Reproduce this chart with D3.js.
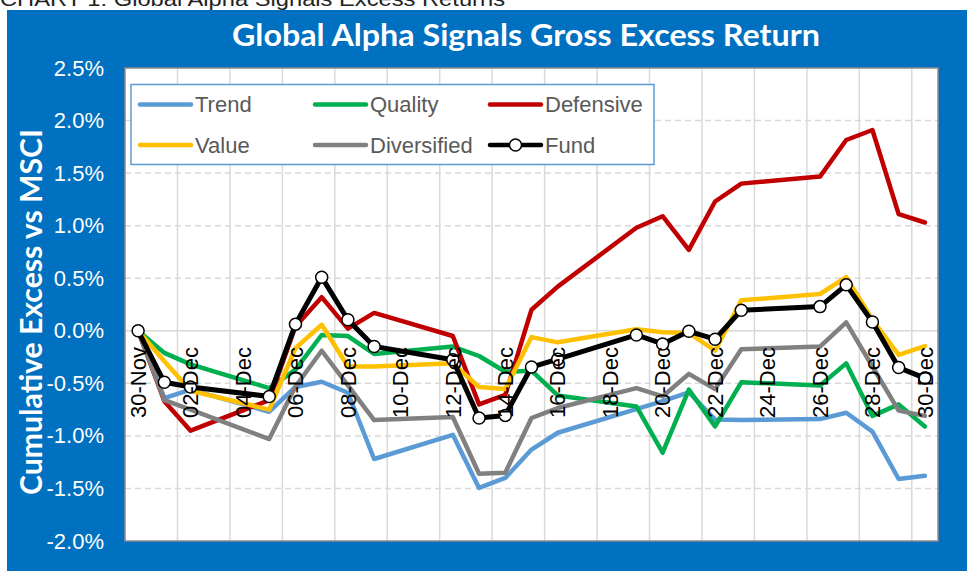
<!DOCTYPE html>
<html>
<head>
<meta charset="utf-8">
<script src="https://cdn.jsdelivr.net/npm/d3@7"></script>
<style>
  body { margin: 0; background: #fff; }
  svg { display: block; }
</style>
</head>
<body>
<svg id="chart" width="967" height="571"></svg>
<script>
// trading days shown on the chart (2016)
var dates = ["30-Nov", "01-Dec", "02-Dec", "05-Dec", "06-Dec", "07-Dec", "08-Dec", "09-Dec",
  "12-Dec", "13-Dec", "14-Dec", "15-Dec", "16-Dec", "19-Dec", "20-Dec", "21-Dec", "22-Dec",
  "23-Dec", "26-Dec", "27-Dec", "28-Dec", "29-Dec", "30-Dec"];

// cumulative excess vs MSCI, in percent
var trend = [0, -0.64, -0.56, -0.77, -0.535, -0.485, -0.59, -1.22, -0.99, -1.495, -1.40, -1.13,
  -0.97, -0.745, -0.67, -0.585, -0.845, -0.85, -0.84, -0.78, -0.96, -1.41, -1.38];
var quality = [0, -0.21, -0.32, -0.545, -0.37, -0.04, -0.05, -0.22, -0.15, -0.24, -0.39, -0.38,
  -0.615, -0.72, -1.16, -0.56, -0.91, -0.49, -0.52, -0.31, -0.81, -0.70, -0.91];
var defensive = [0, -0.67, -0.95, -0.66, 0.04, 0.32, 0.02, 0.17, -0.05, -0.70, -0.61, 0.20,
  0.42, 0.98, 1.09, 0.77, 1.23, 1.40, 1.467, 1.815, 1.91, 1.11, 1.03];
var value = [0, -0.29, -0.57, -0.75, -0.165, 0.057, -0.34, -0.34, -0.31, -0.535, -0.555, -0.06,
  -0.11, 0.015, -0.015, -0.02, -0.19, 0.29, 0.35, 0.51, 0.105, -0.23, -0.145];
var diversified = [0, -0.66, -0.75, -1.03, -0.53, -0.19, -0.52, -0.85, -0.82, -1.36, -1.35, -0.83,
  -0.735, -0.545, -0.625, -0.41, -0.555, -0.175, -0.15, 0.08, -0.34, -0.76, -0.81];
var fund = [0, -0.49, -0.535, -0.625, 0.063, 0.51, 0.105, -0.15, -0.275, -0.83, -0.805, -0.345,
  -0.27, -0.04, -0.125, -0.005, -0.08, 0.195, 0.23, 0.437, 0.083, -0.35, -0.45];

var yTicks = [-2.0, -1.5, -1.0, -0.5, 0, 0.5, 1.0, 1.5, 2.0, 2.5];

var seriesNames = ["Trend", "Quality", "Defensive", "Value", "Diversified", "Fund"];
var seriesValues = [trend, quality, defensive, value, diversified, fund];
var seriesColors = ["#5B9BD5", "#00B050", "#C00000", "#FFC000", "#808080", "#000000"];

chart();

function chart() {
  var svg = d3.select("#chart");
  var plot = {left: 125, right: 938, top: 68, bottom: 541};

  var parse = d3.utcParse("%d-%b-%Y");
  var fmt = d3.utcFormat("%d-%b");
  var days = dates.map(function(s) { return parse(s + "-2016"); });
  var halfDay = 12 * 3600 * 1000;

  // date axis, one band per calendar day
  var start = days[0];
  var end = d3.utcDay.offset(days[days.length - 1], 1);
  var x = d3.scaleUtc().domain([start, end]).range([plot.left, plot.right]);
  var xMid = function(d) { return x(new Date(+d + halfDay)); };

  var y = d3.scaleLinear().domain([-2.0, 2.5]).range([plot.bottom, plot.top]);

  // major unit = 2 days, counted from the first date
  var labelDays = d3.utcDay.range(start, end).filter((d, i) => i % 2 === 0);
  var gridDays = labelDays.slice(1);

  // outer chart area
  svg.append("rect").attr("x", 7).attr("y", 10).attr("width", 960).attr("height", 561)
    .attr("fill", "#0070C0");

  // caption above the chart (cut off at the top in the original)
  svg.append("text").attr("x", 0).attr("y", 6)
    .attr("font-family", "Liberation Sans, Arial, sans-serif").attr("font-size", 20)
    .attr("fill", "#222").attr("textLength", 505).attr("lengthAdjust", "spacingAndGlyphs")
    .text("CHART 1: Global Alpha Signals Excess Returns");

  svg.append("text").attr("x", 526).attr("y", 46).attr("text-anchor", "middle")
    .attr("font-family", "Lato, 'Open Sans', sans-serif").attr("font-weight", "bold")
    .attr("font-size", 30).attr("fill", "#fff")
    .attr("textLength", 588).attr("lengthAdjust", "spacingAndGlyphs")
    .text("Global Alpha Signals Gross Excess Return");

  // plot area
  svg.append("rect").attr("x", plot.left).attr("y", plot.top)
    .attr("width", plot.right - plot.left).attr("height", plot.bottom - plot.top)
    .attr("fill", "#fff");

  // vertical gridlines every 2 days
  svg.append("g").selectAll("line").data(gridDays).join("line")
    .attr("x1", d => x(d)).attr("x2", d => x(d))
    .attr("y1", plot.top).attr("y2", plot.bottom)
    .attr("stroke", "#D9D9D9").attr("stroke-width", 1.5);

  // horizontal dashed gridlines
  svg.append("g").selectAll("line").data(yTicks.filter(t => t !== 0 && t !== -2.0 && t !== 2.5)).join("line")
    .attr("x1", plot.left).attr("x2", plot.right)
    .attr("y1", d => y(d)).attr("y2", d => y(d))
    .attr("stroke", "#D9D9D9").attr("stroke-width", 1.5).attr("stroke-dasharray", "6,4");

  // horizontal axis crosses at zero
  svg.append("line").attr("x1", plot.left).attr("x2", plot.right)
    .attr("y1", y(0)).attr("y2", y(0))
    .attr("stroke", "#D9D9D9").attr("stroke-width", 1.5);

  svg.append("rect").attr("x", plot.left).attr("y", plot.top)
    .attr("width", plot.right - plot.left).attr("height", plot.bottom - plot.top)
    .attr("fill", "none").attr("stroke", "#8C8C8C").attr("stroke-width", 1.5);

  // y axis
  var yAxis = svg.append("g").attr("transform", `translate(${plot.left},0)`)
    .call(d3.axisLeft(y).tickValues(yTicks)
      .tickFormat(d => d.toFixed(1).replace("\u2212", "-") + "%")
      .tickSize(0).tickPadding(21));
  yAxis.select(".domain").remove();
  yAxis.selectAll("text").attr("fill", "#fff").attr("font-size", 22)
    .attr("font-family", "Liberation Sans, Arial, sans-serif");

  svg.append("text")
    .attr("transform", "translate(42,312) rotate(-90)").attr("text-anchor", "middle")
    .attr("font-family", "Lato, 'Open Sans', sans-serif").attr("font-weight", "bold")
    .attr("font-size", 30).attr("fill", "#fff")
    .attr("textLength", 366).attr("lengthAdjust", "spacingAndGlyphs")
    .text("Cumulative Excess vs MSCI");

  // series lines
  var line = d3.line().x(d => xMid(d.date)).y(d => y(d.v));
  var series = seriesNames.map(function(name, i) {
    return {name: name, color: seriesColors[i],
      points: seriesValues[i].map((v, j) => ({date: days[j], v: v}))};
  });

  svg.append("g").selectAll("path").data(series).join("path")
    .attr("d", d => line(d.points))
    .attr("fill", "none").attr("stroke", d => d.color)
    .attr("stroke-width", d => d.name === "Fund" ? 5 : 4.5)
    .attr("stroke-linejoin", "round").attr("stroke-linecap", "round");

  var fundSeries = series[series.length - 1];
  svg.append("g").selectAll("circle").data(fundSeries.points).join("circle")
    .attr("cx", d => xMid(d.date)).attr("cy", d => y(d.v)).attr("r", 6)
    .attr("fill", "#fff").attr("stroke", "#000").attr("stroke-width", 1.5);

  // date labels next to the zero line
  svg.append("g").selectAll("text").data(labelDays).join("text")
    .attr("transform", d => `translate(${xMid(d)},347) rotate(-90)`)
    .attr("text-anchor", "end").attr("dy", "0.35em")
    .attr("font-family", "Liberation Sans, Arial, sans-serif").attr("font-size", 22)
    .attr("fill", "#000")
    .text(d => fmt(d));

  // legend
  var legend = svg.append("g");
  legend.append("rect").attr("x", 131).attr("y", 84.5).attr("width", 523).attr("height", 80)
    .attr("fill", "#fff").attr("stroke", "#5B9BD5").attr("stroke-width", 1.5);

  var colX = [140, 315, 490];
  var rowY = [104.5, 145];
  var items = legend.selectAll("g.item").data(series).join("g").attr("class", "item")
    .attr("transform", (d, i) => `translate(${colX[i % 3]},${rowY[Math.floor(i / 3)]})`);
  items.append("line").attr("x1", 0).attr("x2", 51)
    .attr("stroke", d => d.color).attr("stroke-width", 4.5).attr("stroke-linecap", "round");
  items.filter(d => d.name === "Fund").append("circle")
    .attr("cx", 25.5).attr("r", 6).attr("fill", "#fff").attr("stroke", "#000").attr("stroke-width", 1.5);
  items.append("text").attr("x", 55).attr("dy", "0.35em")
    .attr("font-family", "Liberation Sans, Arial, sans-serif").attr("font-size", 22)
    .attr("fill", "#595959")
    .text(d => d.name);
}
</script>
</body>
</html>
